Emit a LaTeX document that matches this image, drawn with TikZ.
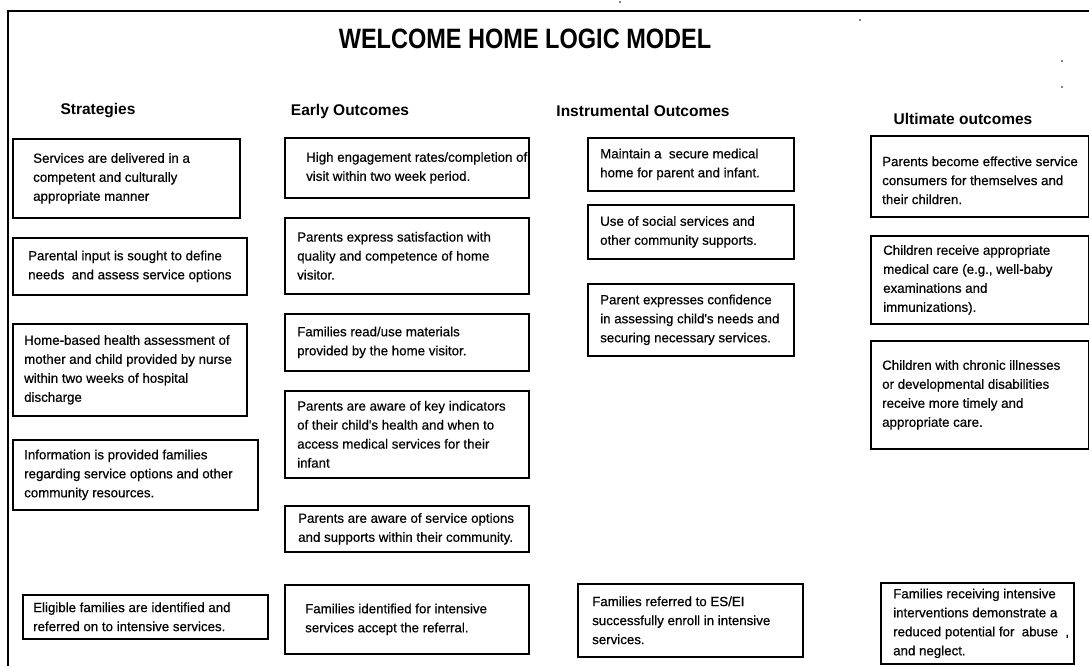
\documentclass[tikz,border=0pt]{standalone}
\usepackage{fontspec}
\setmainfont{Liberation Sans}
\newfontfamily\titlefont{Liberation Sans}[FakeStretch=0.84]
\newfontfamily\bodyfont{Liberation Sans}[FakeBold=0.5]
\begin{document}
\begin{tikzpicture}[x=1pt,y=-1pt,
  box/.style={draw, line width=1.7pt, inner sep=0pt, anchor=north west},
  txt/.style={inner sep=0pt, anchor=west, align=left,
              font=\bodyfont\fontsize{13.3}{19}\selectfont},
  head/.style={inner sep=0pt, font=\fontsize{15.5}{18}\selectfont\bfseries},
  speck/.style={fill=black, inner sep=0pt, minimum size=1.6pt, circle}]
\useasboundingbox (0,0) rectangle (1089,666);

% page frame (left and top rules)
\coordinate (fbl) at (8,666);
\coordinate (ftl) at (8,11);
\coordinate (ftr) at (1089,11);
\draw[line width=2pt] (fbl) -- (ftl) -- (ftr);

% title and column headings
\node[inner sep=0pt, font=\fontsize{28}{32}\titlefont\bfseries] (title) at (525,39) {WELCOME HOME LOGIC MODEL};
\node[head] (hs) at (98,111) {Strategies};
\node[head] (he) at (350,111) {Early Outcomes};
\node[head] (hi) at (643,111) {Instrumental Outcomes};
\node[head] (hu) at (963,119) {Ultimate outcomes};

% Strategies
\node[box, minimum width=227, minimum height=79] (s1) at (12,138) {};
\node[txt] (s1t) at ([xshift=21]s1.west) {Services are delivered in a\\competent and culturally\\appropriate manner};
\node[box, minimum width=234, minimum height=57] (s2) at (12,237) {};
\node[txt] (s2t) at ([xshift=16]s2.west) {Parental input is sought to define\\needs\ \ and assess service options};
\node[box, minimum width=234, minimum height=92] (s3) at (12,323) {};
\node[txt] (s3t) at ([xshift=12]s3.west) {Home-based health assessment of\\mother and child provided by nurse\\within two weeks of hospital\\discharge};
\node[box, minimum width=245, minimum height=70] (s4) at (12,439) {};
\node[txt] (s4t) at ([xshift=12]s4.west) {Information is provided families\\regarding service options and other\\community resources.};
\node[box, minimum width=245, minimum height=44] (s5) at (22,594) {};
\node[txt] (s5t) at ([xshift=11]s5.west) {Eligible families are identified and\\referred on to intensive services.};

% Early outcomes
\node[box, minimum width=244, minimum height=60] (e1) at (284,137) {};
\node[txt] (e1t) at ([xshift=22]e1.west) {High engagement rates/completion of\\visit within two week period.};
\node[box, minimum width=244, minimum height=76] (e2) at (284,217) {};
\node[txt] (e2t) at ([xshift=13]e2.west) {Parents express satisfaction with\\quality and competence of home\\visitor.};
\node[box, minimum width=244, minimum height=57] (e3) at (284,313) {};
\node[txt] (e3t) at ([xshift=13]e3.west) {Families read/use materials\\provided by the home visitor.};
\node[box, minimum width=244, minimum height=87] (e4) at (284,390) {};
\node[txt] (e4t) at ([xshift=13]e4.west) {Parents are aware of key indicators\\of their child's health and when to\\access medical services for their\\infant};
\node[box, minimum width=244, minimum height=46] (e5) at (284,505) {};
\node[txt] (e5t) at ([xshift=14]e5.west) {Parents are aware of service options\\and supports within their community.};
\node[box, minimum width=244, minimum height=69] (e6) at (284,584) {};
\node[txt] (e6t) at ([xshift=21]e6.west) {Families identified for intensive\\services accept the referral.};

% Instrumental outcomes
\node[box, minimum width=206, minimum height=53] (i1) at (587,137) {};
\node[txt] (i1t) at ([xshift=13]i1.west) {Maintain a\ \ secure medical\\home for parent and infant.};
\node[box, minimum width=206, minimum height=54] (i2) at (587,204) {};
\node[txt] (i2t) at ([xshift=13]i2.west) {Use of social services and\\other community supports.};
\node[box, minimum width=206, minimum height=72] (i3) at (587,283) {};
\node[txt] (i3t) at ([xshift=13]i3.west) {Parent expresses confidence\\in assessing child's needs and\\securing necessary services.};
\node[box, minimum width=225, minimum height=73] (i4) at (577,583) {};
\node[txt] (i4t) at ([xshift=15]i4.west) {Families referred to ES/EI\\successfully enroll in intensive\\services.};

% Ultimate outcomes
\node[box, minimum width=218, minimum height=81] (u1) at (870,135) {};
\node[txt] (u1t) at ([xshift=12,yshift=-4]u1.west) {Parents become effective service\\consumers for themselves and\\their children.};
\node[box, minimum width=218, minimum height=88] (u2) at (870,235) {};
\node[txt] (u2t) at ([xshift=13]u2.west) {Children receive appropriate\\medical care (e.g., well-baby\\examinations and\\immunizations).};
\node[box, minimum width=218, minimum height=108] (u3) at (870,340) {};
\node[txt] (u3t) at ([xshift=12]u3.west) {Children with chronic illnesses\\or developmental disabilities\\receive more timely and\\appropriate care.};
\node[box, minimum width=193, minimum height=81] (u4) at (880,582) {};
\node[txt] (u4t) at ([xshift=13]u4.west) {Families receiving intensive\\interventions demonstrate a\\reduced potential for\ \ abuse\ \ ,\\and neglect.};

% stray marks on the sheet
\node[speck] (d1) at (620,2) {};
\node[speck] (d2) at (860,20) {};
\node[speck] (d3) at (1062,61) {};
\node[speck] (d4) at (1062,87) {};
\end{tikzpicture}
\end{document}
